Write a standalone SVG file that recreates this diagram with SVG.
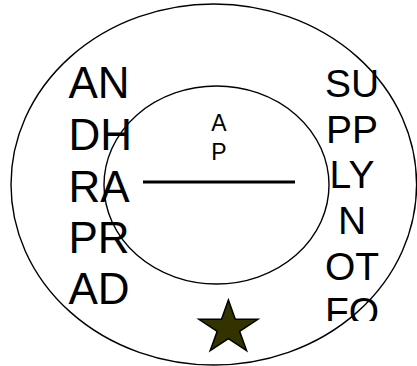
<svg xmlns="http://www.w3.org/2000/svg" width="417" height="366" viewBox="0 0 417 366">
<style>
.ring{fill:none;stroke:#000;stroke-width:1.4}
.big{font-family:"Liberation Sans",Arial,sans-serif;font-size:44px;fill:#000}
.mid{font-family:"Liberation Sans",Arial,sans-serif;font-size:39px;fill:#000;text-anchor:middle}
.small{font-family:"Liberation Sans",Arial,sans-serif;font-size:23px;fill:#000;text-anchor:middle}
</style>
<defs>
<clipPath id="clipR"><rect x="300" y="40" width="117" height="281"/></clipPath>
</defs>
<rect width="417" height="366" fill="#fff"/>
<g id="outer"><ellipse class="ring" cx="213.8" cy="184.5" rx="202.8" ry="180.5"/></g>
<g id="inner"><ellipse class="ring" cx="216.5" cy="185" rx="112.5" ry="99"/></g>
<g id="left-text">
<text class="big" x="68.5" y="98.3">AN</text>
<text class="big" x="68.5" y="150">DH</text>
<text class="big" x="68.5" y="201.5">RA</text>
<text class="big" x="68.5" y="253">PR</text>
<text class="big" x="68.5" y="304">AD</text>
</g>
<g id="right-text" clip-path="url(#clipR)">
<text class="mid" x="352" y="97">SU</text>
<text class="mid" x="352" y="142.5">PP</text>
<text class="mid" x="352" y="188">LY</text>
<text class="mid" x="352" y="233.5">N</text>
<text class="mid" x="352" y="279.5">OT</text>
<text class="mid" x="352" y="325">FO</text>
</g>
<g id="center-text">
<text class="small" x="219" y="130.7">A</text>
<text class="small" x="219" y="160">P</text>
</g>
<g id="connectors">
<line x1="143" y1="182" x2="295" y2="182" stroke="#000" stroke-width="3"/>
</g>
<g id="star">
<polygon points="228.4,300 235.3,319.3 257.9,319.3 239.6,331.3 246.6,350.7 228.4,338.7 210.2,350.7 217.2,331.3 198.9,319.3 221.5,319.3" fill="#333300" stroke="#000" stroke-width="1.5" stroke-linejoin="miter"/>
</g>
</svg>
